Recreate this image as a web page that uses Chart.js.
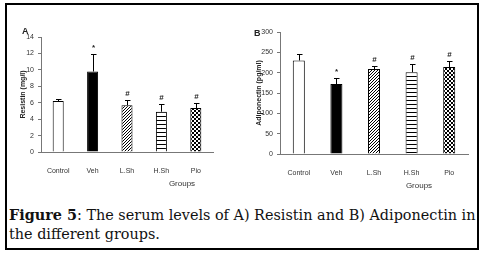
<!DOCTYPE html>
<html>
<head>
<meta charset="utf-8">
<script src="https://cdn.jsdelivr.net/npm/chart.js@4.4.0/dist/chart.umd.min.js"></script>
<style>
  body { margin: 0; background: #fff; }
  #page { position: relative; width: 482px; height: 257px; background: #fff; overflow: hidden; }
  #frame { position: absolute; left: 5px; top: 3px; width: 470px; height: 243px; border: 2px solid #000; }
  .chartBox { position: absolute; top: 0; }
  #caption {
    position: absolute; left: 9px; top: 205px; width: 472px;
    font-family: "DejaVu Serif", serif; font-size: 14.4px; line-height: 19px; color: #111;
    white-space: nowrap;
  }
</style>
</head>
<body>
<div id="page">
  <div id="frame"></div>
  <div class="chartBox" style="left:0px"><canvas id="chartA" width="241" height="195"></canvas></div>
  <div class="chartBox" style="left:241px"><canvas id="chartB" width="241" height="195"></canvas></div>
  <div id="caption"><b>Figure 5</b>: The serum levels of A) Resistin and B) Adiponectin in<br>the different groups.</div>
</div>
<script>
const groups = ['Control', 'Veh', 'L.Sh', 'H.Sh', 'Pio'];

const resistin = [6.2, 9.8, 5.7, 4.9, 5.35];
const resistinErr = [0.25, 2.1, 0.6, 0.9, 0.6];
const resistinMarks = ['', '*', '#', '#', '#'];

const adiponectin = [230, 172, 209, 201, 214];
const adiponectinErr = [17, 14, 7, 20, 15];
const adiponectinMarks = ['', '*', '#', '#', '#'];

function makePattern(size, draw) {
  const c = document.createElement('canvas');
  c.width = size[0];
  c.height = size[1];
  const g = c.getContext('2d');
  g.fillStyle = '#fff';
  g.fillRect(0, 0, c.width, c.height);
  g.fillStyle = '#000';
  draw(g);
  return g.createPattern(c, 'repeat');
}

function barFills() {
  const diag = makePattern([3, 3], g => {
    for (let i = 0; i < 3; i++) g.fillRect(2 - i, i, 1, 1);
  });
  const horiz = makePattern([4, 4], g => g.fillRect(0, 0, 4, 1));
  const checker = makePattern([4, 4], g => {
    g.fillRect(0, 0, 2, 2);
    g.fillRect(2, 2, 2, 2);
  });
  return ['#fff', '#000', diag, horiz, checker];
}

// upper error bars + significance marks + panel letter + "Groups"
const extrasPlugin = {
  id: 'extras',
  afterDatasetsDraw(chart, args, opts) {
    const ctx = chart.ctx;
    const y = chart.scales.y;
    const meta = chart.getDatasetMeta(0);
    const vals = chart.data.datasets[0].data;
    ctx.save();
    ctx.strokeStyle = '#000';
    ctx.lineWidth = 1;
    ctx.fillStyle = '#222';
    ctx.textAlign = 'center';
    ctx.textBaseline = 'bottom';
    ctx.font = 'bold 8px "Liberation Sans", Arial, sans-serif';
    meta.data.forEach((bar, i) => {
      const x = Math.round(bar.x) + 0.5;
      const yBar = y.getPixelForValue(vals[i]);
      const yTop = Math.round(y.getPixelForValue(vals[i] + opts.err[i])) + 0.5;
      ctx.beginPath();
      ctx.moveTo(x, yBar);
      ctx.lineTo(x, yTop);
      ctx.moveTo(x - 2.5, yTop);
      ctx.lineTo(x + 3, yTop);
      ctx.stroke();
      if (opts.marks[i]) ctx.fillText(opts.marks[i], x, yTop - 3);
    });
    const area = chart.chartArea;
    ctx.font = 'bold 9px "Liberation Sans", Arial, sans-serif';
    ctx.textAlign = 'left';
    ctx.textBaseline = 'middle';
    ctx.fillText(opts.letter, opts.letterX, opts.letterY);
    ctx.font = '8px "Liberation Sans", Arial, sans-serif';
    ctx.textAlign = 'center';
    ctx.fillStyle = '#333';
    ctx.fillText('Groups', opts.groupsX, area.bottom + 32);
    ctx.restore();
  }
};

function buildChart(id, values, err, marks, yMax, yStep, title, letter, letterPos, groupsX, pad, yWidth, xHeight) {
  return new Chart(document.getElementById(id), {
    type: 'bar',
    data: {
      labels: groups,
      datasets: [{
        data: values,
        backgroundColor: barFills(),
        borderColor: '#000',
        borderWidth: 1,
        categoryPercentage: 1,
        barPercentage: 0.32
      }]
    },
    options: {
      responsive: false,
      animation: false,
      devicePixelRatio: 1,
      layout: { padding: pad },
      plugins: {
        legend: { display: false },
        tooltip: { enabled: false },
        extras: { err: err, marks: marks, letter: letter, letterX: letterPos[0], letterY: letterPos[1], groupsX: groupsX }
      },
      scales: {
        x: {
          afterFit: s => { s.height = xHeight; },
          grid: { display: false },
          border: { color: '#777', width: 1 },
          ticks: { color: '#333', padding: 7, font: { family: '"Liberation Sans", Arial, sans-serif', size: 7 } }
        },
        y: {
          min: 0,
          max: yMax,
          afterFit: s => { s.width = yWidth; },
          grid: { drawOnChartArea: false, drawTicks: true, tickLength: 3, color: '#777' },
          border: { color: '#777', width: 1 },
          ticks: { stepSize: yStep, color: '#333', padding: 4, font: { family: '"Liberation Sans", Arial, sans-serif', size: 7 } },
          title: {
            display: true,
            text: title,
            color: '#222',
            padding: 0,
            font: { family: '"Liberation Sans", Arial, sans-serif', size: 7, weight: 'bold' }
          }
        }
      }
    },
    plugins: [extrasPlugin]
  });
}

buildChart('chartA', resistin, resistinErr, resistinMarks, 14, 2, 'Resistin (mg/l)', 'A',
  [22, 32], 182, { left: 19, right: 28, top: 37, bottom: 0 }, 22, 43);
buildChart('chartB', adiponectin, adiponectinErr, adiponectinMarks, 300, 50, 'Adiponectin (pg/ml)', 'B',
  [13, 34], 178, { left: 14, right: 14, top: 32, bottom: 0 }, 25, 41);
</script>
</body>
</html>
